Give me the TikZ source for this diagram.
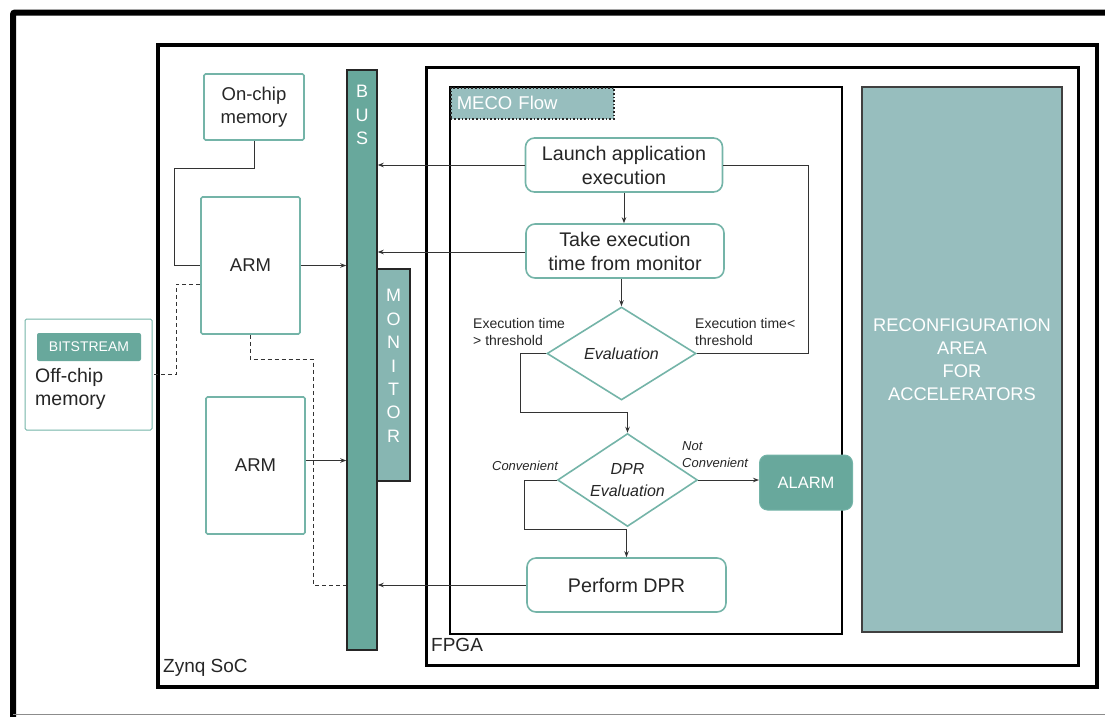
\documentclass[tikz,border=0pt]{standalone}
\usepackage{fontspec}
\setmainfont{Liberation Sans}
\usepackage{tikz}
\usetikzlibrary{arrows.meta, shapes.geometric}
\usepackage{xcolor}
\definecolor{mecoline}{HTML}{74B4A8}
\definecolor{mecodark}{HTML}{68A89C}
\definecolor{mecomid}{HTML}{87B6B2}
\definecolor{mecolight}{HTML}{97BEBE}
\newcommand{\fsz}[2]{\fontsize{#1}{#2}\selectfont}

\tikzset{
  block/.style={draw=mecoline, line width=1.6pt, fill=white, rounded corners=1.5pt,
    align=center, text=black!85, font=\fsz{18.5}{23}},
  flowbox/.style={block, rounded corners=9pt, minimum width=197pt, minimum height=54pt,
    font=\fsz{19.7}{24}},
  decision/.style={diamond, draw=mecoline, line width=1.6pt, fill=white, inner sep=0pt,
    align=center, text=black!85, font=\itshape\fsz{16}{22}},
  tealbar/.style={draw=black!85, line width=1.5pt, fill=mecodark},
  barletters/.style={anchor=north, text=white, align=center, inner sep=0pt, font=\fsz{18}{23.4}},
  boxframe/.style={draw=black, line width=#1},
  wire/.style={draw=black!80, line width=0.9pt},
  arr/.style={wire, -{Stealth[length=6pt, width=4.5pt]}},
  dashwire/.style={wire, dash pattern=on 4pt off 3pt},
  note/.style={align=left, inner sep=0pt, text=black!85, font=\fsz{14}{17}},
  choice/.style={align=left, inner sep=0pt, text=black!85, font=\itshape\fsz{13}{17}},
}

\begin{document}
\begin{tikzpicture}[x=1pt, y=-1pt]
  \useasboundingbox (0,0) rectangle (1105,716);

  % frames
  \draw[line width=6pt, rounded corners=2pt] (13,720) -- (13,12.5) -- (1112,12.5);
  \draw[black!45, line width=1pt] (13,714.5) -- (1105,714.5);
  \draw[boxframe=4pt] (158,45) rectangle (1097,687);
  \draw[boxframe=3pt] (426,67) rectangle (1078,665);
  \draw[boxframe=1.5pt] (450,87) rectangle (842,634);
  \node[anchor=base west, inner sep=0pt, text=black!85, font=\fsz{19}{23}] (zynqlabel) at (163,672) {Zynq SoC};
  \node[anchor=base west, inner sep=0pt, text=black!85, font=\fsz{19}{23}] (fpgalabel) at (431,651) {FPGA};
  \node[anchor=north west, draw=black!85, dotted, line width=1.6pt, fill=mecolight, text=white,
    minimum height=31pt, text width=151pt, inner xsep=6pt, align=left, font=\fsz{18.5}{22}] (mecotag) at (450,87) {MECO Flow};

  % reconfigurable region
  \node[draw=black!75, line width=1.5pt, fill=mecolight, text=white, minimum width=200pt,
    minimum height=545pt, align=center, font=\fsz{18.3}{23}] (reconf) at (962,359.5)
    {RECONFIGURATION\\AREA\\FOR\\ACCELERATORS};

  % bus and monitor
  \node[tealbar, minimum width=30pt, minimum height=580pt] (bus) at (362,360) {};
  \node[barletters] (busletters) at ([yshift=-16pt]bus.north) {B\\U\\S};
  \node[tealbar, fill=mecomid, minimum width=33pt, minimum height=212pt] (monitor) at (393.5,375) {};
  \node[barletters] (monletters) at ([yshift=-21pt]monitor.north) {M\\O\\N\\I\\T\\O\\R};

  % processing system
  \node[block, minimum width=100pt, minimum height=66pt] (onchip) at (254,107) {On-chip\\memory};
  \node[block, minimum width=99pt, minimum height=137pt] (arm1) at (250.5,265.5) {ARM};
  \node[block, minimum width=99pt, minimum height=137pt] (arm2) at (255.5,465.5) {ARM};
  \node[block, line width=1pt, minimum width=127pt, minimum height=111pt] (offchip) at (88.5,374.5) {};
  \node[fill=mecodark, text=white, rounded corners=2pt, minimum width=104pt, minimum height=28pt,
    font=\fsz{14}{17}] (bitstream) at (89,347) {BITSTREAM};
  \node[anchor=north west, align=left, inner sep=0pt, text=black!85, font=\fsz{19.5}{23}] (offtext)
    at (35,368) {Off-chip\\memory};

  % flow
  \node[flowbox] (launch) at (624,165) {Launch application\\execution};
  \node[flowbox, minimum width=198pt] (take) at (625,251) {Take execution\\time from monitor};
  \node[decision, aspect=1.6, minimum width=149pt, minimum height=93pt] (eval) at (621.5,353.5) {Evaluation};
  \node[decision, aspect=1.5, minimum width=140pt, minimum height=93pt] (dpreval) at (627.5,480) {DPR\\Evaluation};
  \node[flowbox, minimum width=199pt] (perform) at (626.5,585) {Perform DPR};
  \node[fill=mecodark, draw=mecoline, line width=1pt, text=white, rounded corners=8pt,
    minimum width=93pt, minimum height=55pt, font=\fsz{16.5}{20}] (alarm) at (806,482.5) {ALARM};

  \node[note, anchor=north west] (gtlabel) at (473,318) {Execution time\\> threshold};
  \node[note, anchor=north west] (ltlabel) at (695,318) {Execution time<\\threshold};
  \node[choice] (convlabel) at (525,466) {Convenient};
  \node[choice, anchor=north west] (notconvlabel) at (682,441) {Not\\Convenient};

  % connections
  \draw[wire] (onchip.south) -- ++(0,28) -| ([xshift=-26pt]arm1.west) -- (arm1.west);
  \draw[arr] (arm1.east) -- (arm1.east -| bus.west);
  \draw[arr] ([yshift=5pt]arm2.east) -- ([yshift=5pt]arm2.east -| bus.west);
  \draw[dashwire] ([yshift=-18.5pt]arm1.west) -- ++(-24,0) |- (offchip.east);
  \draw[dashwire] (arm1.south) -- ++(0,25) -- ++(63,0) |- (perform.west -| bus.west);

  \draw[arr] (launch.west) -- (launch.west -| bus.east);
  \draw[arr] ([yshift=-1pt]take.west) -- ([yshift=-1pt]take.west -| bus.east);
  \draw[arr] (perform.west) -- (perform.west -| bus.east);

  \draw[arr] (launch.south) -- (launch.south |- take.north);
  \draw[arr] (eval.north |- take.south) -- (eval.north);
  \draw[wire] (eval.east) -- ++(111.5,0) |- (launch.east);
  \draw[arr] (eval.west) -- ++(-26,0) -- ++(0,58.5) -| (dpreval.north);
  \draw[arr] (dpreval.west) -- ++(-32.5,0) -- ++(0,49.5) -| (perform.north);
  \draw[arr] (dpreval.east) -- (dpreval.east -| alarm.west);
\end{tikzpicture}
\end{document}
